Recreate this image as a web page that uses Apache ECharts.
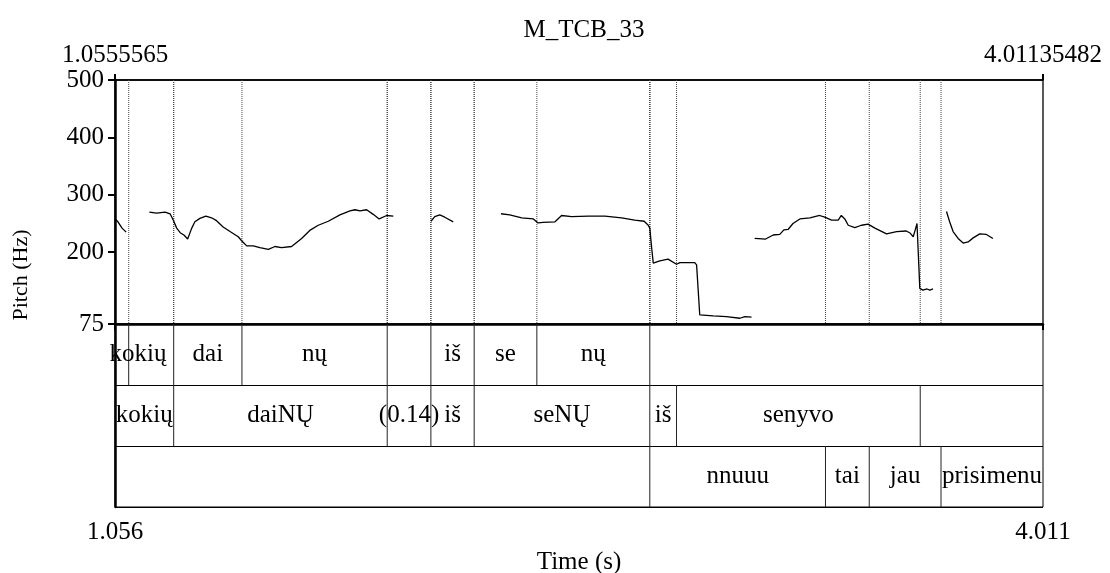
<!DOCTYPE html>
<html>
<head>
<meta charset="utf-8">
<script src="https://cdn.jsdelivr.net/npm/echarts@6/dist/echarts.min.js"></script>
<style>html,body{margin:0;padding:0;background:#fff}#c{width:1110px;height:573px}</style>
</head>
<body>
<div id="c"></div>
<script>
// ---- data ----
const timeMin = 1.0555565;
const timeMax = 4.01135482;
const topTickLabels = ['1.0555565', '4.01135482'];
const bottomTickLabels = ['1.056', '4.011'];
const pitchTicks = [75, 200, 300, 400, 500];

// pitch contour (null separates unvoiced gaps)
const pitchTime = [
  1.056,1.065,1.078,1.091, null,
  1.165,1.188,1.215,1.231,1.241,1.252,1.263,1.275,1.287,1.300,1.310,1.326,1.345,1.363,1.379,1.400,1.422,1.448,1.459,1.475,1.496,1.517,1.544,1.565,1.586,1.618,1.650,1.676,1.703,1.735,1.772,1.804,1.820,1.836,1.857,1.878,1.897,1.921,1.942, null,
  2.062,2.074,2.090,2.106,2.133, null,
  2.285,2.313,2.351,2.388,2.403,2.419,2.457,2.478,2.510,2.563,2.616,2.669,2.711,2.741,2.754,2.759,2.765,2.770,2.791,2.817,2.844,2.855,2.902,2.908,2.918,2.961,3.003,3.046,3.062,3.083, null,
  3.093,3.128,3.152,3.173,3.186,3.200,3.215,3.237,3.269,3.300,3.316,3.338,3.359,3.369,3.380,3.391,3.412,3.433,3.454,3.476,3.513,3.545,3.576,3.589,3.598,3.606,3.610,3.619,3.629,3.642,3.651,3.661, null,
  3.704,3.714,3.725,3.741,3.757,3.773,3.789,3.810,3.831,3.852
];
const pitchHz = [
  258,253,242,235, null,
  270,268,270,267,256,242,234,230,223,242,253,259,263,260,255,244,236,227,220,211,211,208,205,210,208,210,224,238,247,254,265,272,274,272,274,266,258,264,263, null,
  254,262,265,261,253, null,
  267,265,260,258,251,252,253,264,262,263,263,260,256,254,247,242,207,181,185,188,179,182,182,178,91,89,88,85,88,87, null,
  224,223,230,231,239,240,250,258,260,264,261,256,256,264,258,247,243,247,249,242,232,236,237,233,227,242,250,137,134,136,134,136, null,
  271,253,236,224,216,218,225,232,231,224
];

// TextGrid tiers
const tier1Bounds = [1.0992,1.2425,1.4599,1.9226,2.0617,2.1996,2.3992,2.7590];
const tier2Bounds = [1.2425,1.9226,2.0617,2.1996,2.7590,2.8441,3.6203];
const tier3Bounds = [2.7590,3.3185,3.4579,3.6865];
const tier1Texts = ['kokių','dai','nų','iš','se','nų'];
const tier1LabelTimes = [1.1288,1.3512,1.6913,2.1307,2.2994,2.5791];
const tier2Texts = ['kokių','daiNŲ','(0.14)','iš','seNŲ','iš','senyvo'];
const tier2LabelTimes = [1.1490,1.5826,1.9922,2.1307,2.4793,2.8016,3.2322];
const tier3Texts = ['nnuuu','tai','jau','prisimenu'];
const tier3LabelTimes = [3.0388,3.3882,3.5722,3.8489];

// ---- build ----
const FONT = '"Liberation Serif","Times New Roman",serif';
const FS = 25;

const segments = [];
let cur = [];
pitchTime.forEach((t, i) => {
  if (t === null || pitchHz[i] === null) { if (cur.length) segments.push(cur); cur = []; }
  else cur.push([t, pitchHz[i]]);
});
if (cur.length) segments.push(cur);

const allBounds = [];
[tier1Bounds, tier2Bounds, tier3Bounds].forEach((b, tier) => b.forEach(t => allBounds.push([t, tier])));
const allLabels = [];
const allTexts = [];
[[tier1LabelTimes, tier1Texts], [tier2LabelTimes, tier2Texts], [tier3LabelTimes, tier3Texts]].forEach(([times, texts], tier) => {
  times.forEach((t, i) => { allLabels.push([t, tier + 0.5, allTexts.length]); allTexts.push(texts[i]); });
});

const chart = echarts.init(document.getElementById('c'), null, {renderer: 'canvas'});
const option = {
  backgroundColor: '#fff',
  animation: false,
  title: {
    text: 'M_TCB_33', left: 579, top: 13, textAlign: 'center',
    textStyle: {fontFamily: FONT, fontSize: FS, fontWeight: 'normal', color: '#000'}
  },
  graphic: [{
    type: 'text', x: 21, y: 275, rotation: Math.PI / 2,
    style: {text: 'Pitch (Hz)', fontFamily: FONT, fontSize: 22, fill: '#000', align: 'center', verticalAlign: 'middle'}
  }],
  grid: [
    {left: 115, top: 80, width: 928, height: 244, show: true, borderColor: '#000', borderWidth: 1.3,
      backgroundColor: 'transparent', containLabel: false, outerBoundsMode: 'none'},
    {left: 115, top: 324, width: 928, height: 183, show: true, borderColor: '#000', borderWidth: 1,
      backgroundColor: 'transparent', containLabel: false, outerBoundsMode: 'none'}
  ],
  xAxis: [
    {
      gridIndex: 0, type: 'value', min: timeMin, max: timeMax, position: 'top',
      axisLine: {show: true, lineStyle: {color: '#000', width: 1.5}},
      axisTick: {show: true, customValues: [timeMin, timeMax], length: 6, lineStyle: {color: '#000', width: 2}},
      axisLabel: {
        show: true, customValues: [timeMin, timeMax], margin: 12,
        formatter: v => Math.abs(v - timeMin) < 1e-9 ? topTickLabels[0] : topTickLabels[1],
        fontFamily: FONT, fontSize: FS, color: '#000'
      },
      splitLine: {show: false}
    },
    {
      gridIndex: 1, type: 'value', min: timeMin, max: timeMax, position: 'bottom',
      axisLine: {show: true, lineStyle: {color: '#000', width: 2.5}},
      axisTick: {show: true, customValues: [timeMin, timeMax], length: 6, lineStyle: {color: '#000', width: 2}},
      axisLabel: {
        show: true, customValues: [timeMin, timeMax], margin: 13,
        formatter: v => Math.abs(v - timeMin) < 1e-9 ? bottomTickLabels[0] : bottomTickLabels[1],
        fontFamily: FONT, fontSize: FS, color: '#000'
      },
      splitLine: {show: false},
      name: 'Time (s)', nameLocation: 'middle', nameGap: 43,
      nameTextStyle: {fontFamily: FONT, fontSize: FS, color: '#000', verticalAlign: 'top'}
    }
  ],
  yAxis: [
    {
      gridIndex: 0, type: 'value', min: 75, max: 500,
      axisLine: {show: true, lineStyle: {color: '#000', width: 2.5}},
      axisTick: {show: true, customValues: pitchTicks, length: 7, lineStyle: {color: '#000', width: 2}},
      axisLabel: {show: true, customValues: pitchTicks, margin: 11, fontFamily: FONT, fontSize: FS, color: '#000'},
      splitLine: {show: false}
    },
    {
      gridIndex: 1, type: 'value', min: 0, max: 3, interval: 1, inverse: true,
      axisLine: {show: true, lineStyle: {color: '#000', width: 2.5}},
      axisTick: {show: false}, axisLabel: {show: false},
      splitLine: {show: true, lineStyle: {color: '#000', width: 1.2}}
    }
  ],
  series: [
    // dotted boundary lines over the pitch area
    {
      type: 'custom', xAxisIndex: 0, yAxisIndex: 0, data: allBounds, silent: true, z: 1,
      renderItem: (params, api) => {
        const p1 = api.coord([api.value(0), 500]);
        const p2 = api.coord([api.value(0), 75]);
        return {type: 'line', shape: {x1: p1[0], y1: p1[1], x2: p2[0], y2: p2[1]},
          style: {stroke: '#444', lineWidth: 1, lineDash: [1, 1]}};
      }
    },
    // tier boundaries
    {
      type: 'custom', xAxisIndex: 1, yAxisIndex: 1, data: allBounds, silent: true, z: 2,
      renderItem: (params, api) => {
        const p1 = api.coord([api.value(0), api.value(1)]);
        const p2 = api.coord([api.value(0), api.value(1) + 1]);
        return {type: 'line', shape: {x1: p1[0], y1: p1[1], x2: p2[0], y2: p2[1]},
          style: {stroke: '#222', lineWidth: 1}};
      }
    },
    // tier texts
    {
      type: 'custom', xAxisIndex: 1, yAxisIndex: 1, data: allLabels, silent: true, z: 3,
      renderItem: (params, api) => {
        const p = api.coord([api.value(0), api.value(1)]);
        return {type: 'text', x: p[0], y: p[1],
          style: {text: allTexts[api.value(2)], fontFamily: FONT, fontSize: FS, fill: '#000', align: 'center', verticalAlign: 'middle'}};
      }
    }
  ].concat(segments.map(seg => ({
    type: 'line', xAxisIndex: 0, yAxisIndex: 0, data: seg, showSymbol: false, symbol: 'none',
    lineStyle: {color: '#000', width: 1.3}, silent: true, z: 4
  })))
};
chart.setOption(option);
</script>
</body>
</html>
